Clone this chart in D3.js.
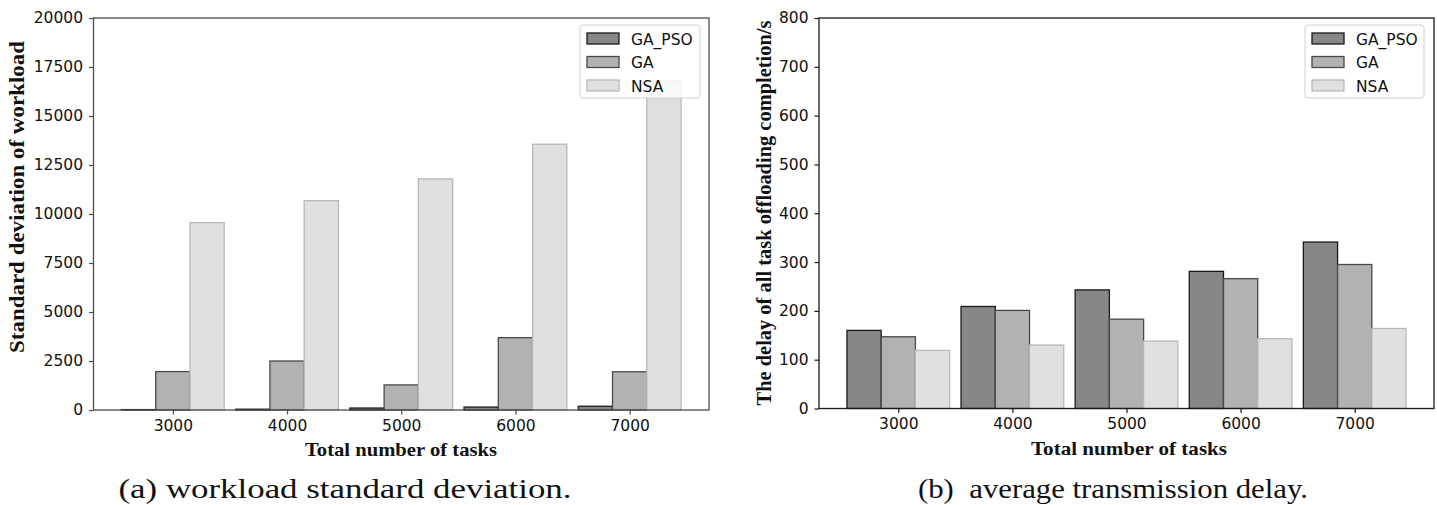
<!DOCTYPE html>
<html>
<head>
<meta charset="utf-8">
<script src="https://cdn.jsdelivr.net/npm/d3@7"></script>
<style>
  body { margin: 0; background: #fff; }
  svg text { fill: #111; }
</style>
</head>
<body>
<div id="chart"></div>
<script>
// data
var tasks = ["3000", "4000", "5000", "6000", "7000"];
var algorithms = ["GA_PSO", "GA", "NSA"];

var workloadGaPso = [20, 40, 100, 150, 190];
var workloadGa = [1960, 2500, 1280, 3690, 1950];
var workloadNsa = [9560, 10680, 11790, 13560, 16780];

var delayGaPso = [160, 209, 243, 281, 341];
var delayGa = [147, 201, 183, 266, 295];
var delayNsa = [119, 130, 138, 143, 164];

var workloadTicks = [0, 2500, 5000, 7500, 10000, 12500, 15000, 17500, 20000];
var delayTicks = [0, 100, 200, 300, 400, 500, 600, 700, 800];

var fills = ["#878787", "#b2b2b2", "#e0e0e0"];
var edges = ["#1a1a1a", "#4a4a4a", "#b8b8b8"];

var svg = d3.select("#chart")
    .append("svg")
    .attr("width", 1437)
    .attr("height", 505);

// one panel: grouped bars, GA sits on the tick, bar width 0.3
function drawPanel(opt) {
    var x = d3.scaleLinear()
        .domain([-0.695, 4.695])
        .range([opt.left, opt.right]);
    var y = d3.scaleLinear()
        .domain([0, d3.max(opt.ticks)])
        .range([opt.bottom, opt.top]);

    var g = svg.append("g");
    var series = [opt.a, opt.b, opt.c];
    var bw = 0.3;

    series.forEach(function(vals, k) {
        g.selectAll(".bar" + k)
            .data(vals)
            .enter().append("rect")
            .attr("x", function(d, i) { return x(i + (k - 1) * bw - bw / 2); })
            .attr("width", x(bw) - x(0))
            .attr("y", function(d) { return y(d); })
            .attr("height", function(d) { return y(0) - y(d); })
            .style("fill", fills[k])
            .style("stroke", edges[k])
            .style("stroke-width", 1.3);
    });

    // frame
    g.append("rect")
        .attr("x", opt.left)
        .attr("y", opt.top)
        .attr("width", opt.right - opt.left)
        .attr("height", opt.bottom - opt.top)
        .style("fill", "none")
        .style("stroke", opt.spine)
        .style("stroke-width", 1.3);

    var xAxis = g.append("g")
        .attr("transform", "translate(0," + opt.bottom + ")")
        .call(d3.axisBottom(x)
            .tickValues(d3.range(tasks.length))
            .tickFormat(function(i) { return tasks[i]; })
            .tickSize(4.5)
            .tickSizeOuter(0)
            .tickPadding(5));
    var yAxis = g.append("g")
        .attr("transform", "translate(" + opt.left + ",0)")
        .call(d3.axisLeft(y)
            .tickValues(opt.ticks)
            .tickFormat(d3.format("d"))
            .tickSize(4.5)
            .tickSizeOuter(0)
            .tickPadding(6));

    [xAxis, yAxis].forEach(function(ax) {
        ax.select(".domain").remove();
        ax.selectAll("line").style("stroke", opt.spine).style("stroke-width", 1.2);
        ax.selectAll("text")
            .style("font-family", "DejaVu Sans")
            .style("font-size", "15.5px")
            .style("fill", "#111");
    });

    // axis titles
    g.append("text")
        .attr("x", opt.xlabelX)
        .attr("y", opt.bottom + 46)
        .attr("text-anchor", "middle")
        .attr("textLength", opt.xlabelLen)
        .attr("lengthAdjust", "spacingAndGlyphs")
        .style("font-family", "Liberation Serif")
        .style("font-weight", "bold")
        .style("font-size", "19px")
        .text("Total number of tasks");

    g.append("text")
        .attr("transform", "translate(" + opt.ylabelX + "," + opt.ylabelY + ") rotate(-90)")
        .attr("text-anchor", "middle")
        .attr("textLength", opt.ylabelLen)
        .attr("lengthAdjust", "spacingAndGlyphs")
        .style("font-family", "Liberation Serif")
        .style("font-weight", "bold")
        .style("font-size", "21px")
        .text(opt.ylabel);

    // legend
    var lg = g.append("g").attr("transform", "translate(" + opt.legendX + "," + (opt.top + 7) + ")");
    lg.append("rect")
        .attr("width", opt.legendW)
        .attr("height", 73)
        .attr("rx", 3)
        .style("fill", "#fff")
        .style("fill-opacity", 0.8)
        .style("stroke", "#d0d0d0");
    algorithms.forEach(function(name, k) {
        lg.append("rect")
            .attr("x", 7)
            .attr("y", 8 + k * 23.5)
            .attr("width", 32)
            .attr("height", 11)
            .style("fill", fills[k])
            .style("stroke", edges[k])
            .style("stroke-width", 1.3);
        lg.append("text")
            .attr("x", 51)
            .attr("y", 19.5 + k * 23.5)
            .style("font-family", "DejaVu Sans")
            .style("font-size", "15.5px")
            .text(name);
    });

    // caption
    svg.append("text")
        .attr("x", opt.captionX)
        .attr("y", 498)
        .attr("text-anchor", "middle")
        .attr("textLength", opt.captionLen)
        .attr("lengthAdjust", "spacingAndGlyphs")
        .style("font-family", "Liberation Serif")
        .style("font-size", "28px")
        .style("white-space", "pre")
        .text(opt.caption);
}

drawPanel({
    left: 93.5, right: 709, top: 18, bottom: 410,
    a: workloadGaPso, b: workloadGa, c: workloadNsa,
    ticks: workloadTicks,
    spine: "#4d4d4d",
    xlabelX: 401, xlabelLen: 192,
    ylabel: "Standard deviation of workload",
    ylabelX: 24, ylabelY: 197, ylabelLen: 312,
    legendX: 580, legendW: 120,
    caption: "(a) workload standard deviation.",
    captionX: 345, captionLen: 453
});

drawPanel({
    left: 819, right: 1434, top: 18, bottom: 408.5,
    a: delayGaPso, b: delayGa, c: delayNsa,
    ticks: delayTicks,
    spine: "#1a1a1a",
    xlabelX: 1129, xlabelLen: 196,
    ylabel: "The delay of all task offloading completion/s",
    ylabelX: 771, ylabelY: 213, ylabelLen: 385,
    legendX: 1305, legendW: 119,
    caption: "(b)\u00a0\u00a0average transmission delay.",
    captionX: 1113, captionLen: 390
});
</script>
</body>
</html>
